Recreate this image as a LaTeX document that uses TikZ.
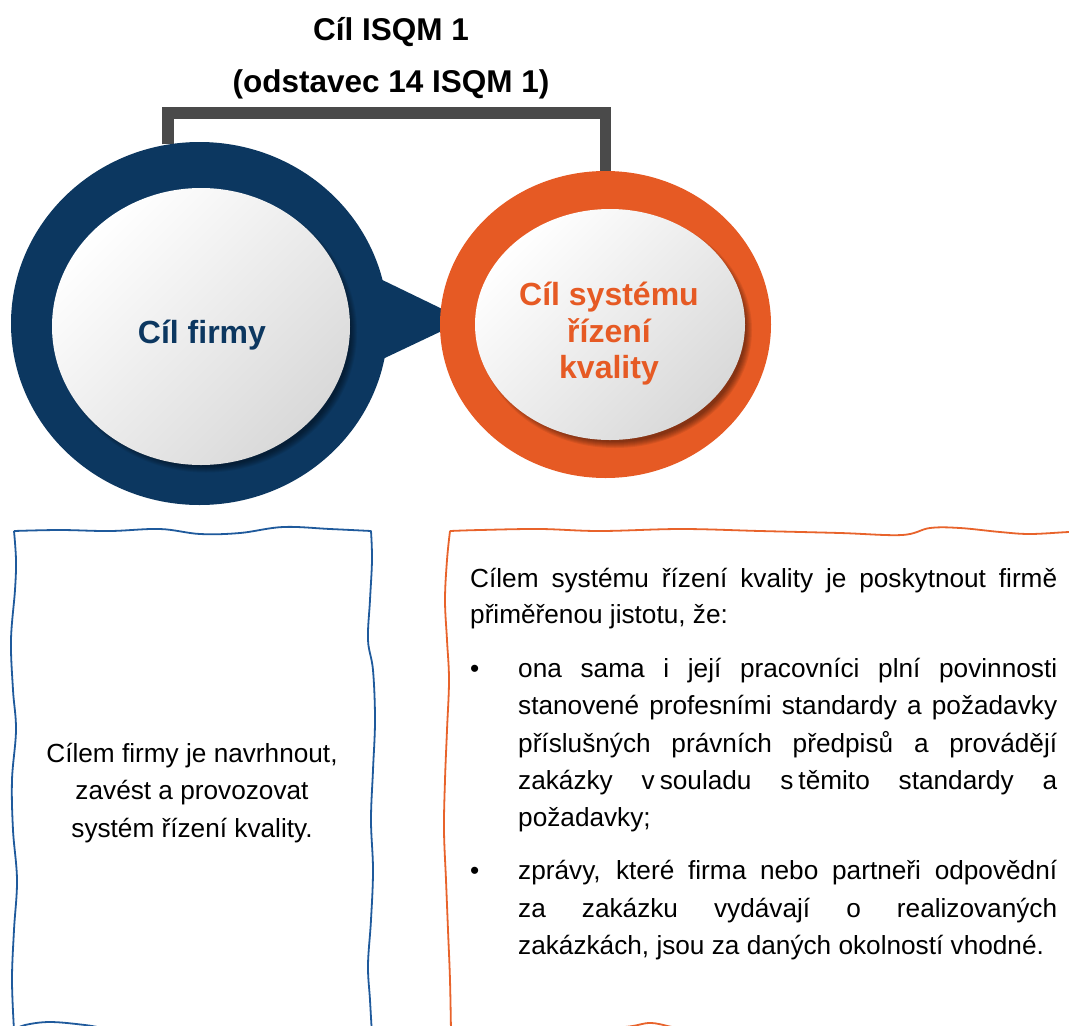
\documentclass[tikz,border=0pt]{standalone}
\usepackage{fontspec}
\setmainfont{Liberation Sans}
\usetikzlibrary{shapes.geometric}
\pgfdeclarelayer{bg}
\pgfsetlayers{bg,main}
\definecolor{navy}{HTML}{0C3760}
\definecolor{orng}{HTML}{E65A24}
\definecolor{boxblue}{HTML}{1F5A9C}
\definecolor{boxorng}{HTML}{E8632B}
\definecolor{brk}{HTML}{4A4A4A}
\begin{document}
\begin{tikzpicture}[x=1pt,y=-1pt,
  ring/.style={ellipse, inner sep=0pt, draw=none},
  disk/.style={ellipse, inner sep=0pt, draw=none, top color=white, bottom color=gray!30, shading angle=45},
  ttl/.style={font=\bfseries\fontsize{31.5}{36}\selectfont, anchor=base, inner sep=0pt},
  ctext/.style={font=\bfseries\fontsize{32}{36}\selectfont, anchor=base, inner sep=0pt},
  body/.style={font=\fontsize{26.2}{37}\selectfont, anchor=base west, inner sep=0pt},
  bodyc/.style={body, anchor=base},
  wavy/.style={line width=1.8pt, line join=round},
  bracketline/.style={line width=11.5pt, brk, line join=miter}
]
\useasboundingbox (0,0) rectangle (1069,1026);
\begin{pgfonlayer}{bg}
  \fill[white] (0,0) rectangle (1069,1026);
\end{pgfonlayer}
\clip (0,0) rectangle (1069,1026);

% title
\node[ttl] (t1) at (391,40) {Cíl ISQM 1};
\node[ttl] (t2) at (391,92) {(odstavec 14 ISQM 1)};

% outer rings
\node[ring, fill=navy, minimum width=377pt, minimum height=363pt] (firmOuter) at (199.5,323.5) {};
\node[ring, fill=orng, minimum width=331pt, minimum height=307pt] (sqOuter) at (605.5,324.5) {};

% bracket and pointer behind
\coordinate (brTop) at (391,113);
\coordinate (tip) at (465,320);
\begin{pgfonlayer}{bg}
  \draw[bracketline] (firmOuter.100) |- (brTop) -| (sqOuter.north);
  \fill[navy] (370,274) -- (tip) -- (370,365) -- cycle;
\end{pgfonlayer}

% shadows of inner disks
\foreach \k in {0,...,6}{
  \fill[black, opacity=0.07] (206,332) ellipse [x radius={145+\k}, y radius={134.5+\k}];
  \fill[black, opacity=0.07] (615,330) ellipse [x radius={131+\k}, y radius={112+\k}];
}

% inner disks
\node[disk, minimum width=298pt, minimum height=277pt] (firmInner) at (201,326.5) {};
\node[disk, minimum width=270pt, minimum height=231pt] (sqInner) at (610,324.5) {};

% circle texts
\node[ctext, text=navy] (firmLbl) at (202,343) {Cíl firmy};
\node[ctext, text=orng] (sqLbl1) at (609,305) {Cíl systému};
\node[ctext, text=orng] (sqLbl2) at (609,342) {řízení};
\node[ctext, text=orng] (sqLbl3) at (609,378) {kvality};

% left wavy box
\draw[wavy, boxblue]
  plot[smooth, tension=0.6] coordinates {(14,531) (60,530) (110,531) (160,529) (200,534) (240,533) (283,527) (330,529) (371,531)}
  -- plot[smooth, tension=0.6] coordinates {(371,531) (372,560) (370,600) (368,640) (373,670) (375,720) (373,770) (371,820) (373,870) (371,920) (368,965) (370,1000) (372,1035)}
  -- plot[smooth, tension=0.6] coordinates {(372,1035) (300,1032) (200,1034) (120,1030) (85,1025) (50,1022) (25,1025) (14,1030)}
  -- plot[smooth, tension=0.6] coordinates {(14,1030) (12,980) (14,930) (17,880) (13,830) (12,780) (16,730) (13,690) (11,640) (15,590) (16,560) (14,531)};

% right wavy box
\draw[wavy, boxorng]
  plot[smooth, tension=0.6] coordinates {(450,531) (480,530) (540,529) (600,531) (681,529) (760,531) (840,533) (902,535) (930,528) (960,528) (1000,532) (1030,534) (1069,532) (1085,532)}
  -- (1085,1040)
  -- plot[smooth, tension=0.6] coordinates {(1085,1040) (900,1034) (700,1033) (672,1027) (650,1023) (625,1027) (560,1032) (451,1032)}
  -- plot[smooth, tension=0.6] coordinates {(451,1032) (450,980) (448,930) (446,880) (444,830) (445,780) (447,730) (449,680) (447,640) (445,600) (447,560) (450,531)};

% left box text
\node[bodyc] (l1) at (192,762) {Cílem firmy je navrhnout,};
\node[bodyc] (l2) at (192,799) {zavést a provozovat};
\node[bodyc] (l3) at (192,837) {systém řízení kvality.};

% right box text
\node[body] (r1) at (470,587) {\makebox[587pt][s]{Cílem systému řízení kvality je poskytnout firmě}};
\node[body] (r2) at (470,623) {přiměřenou jistotu, že:};
\node[body] (b1) at (470,677) {•};
\node[body] (r3) at (518,677) {\makebox[539pt][s]{ona sama i její pracovníci plní povinnosti}};
\node[body] (r4) at (518,714) {\makebox[539pt][s]{stanovené profesními standardy a požadavky}};
\node[body] (r5) at (518,752) {\makebox[539pt][s]{příslušných právních předpisů a provádějí}};
\node[body] (r6) at (518,789) {\makebox[539pt][s]{zakázky v\hspace{5pt}souladu s\hspace{5pt}těmito standardy a}};
\node[body] (r7) at (518,826) {požadavky;};
\node[body] (b2) at (470,879) {•};
\node[body] (r8) at (518,879) {\makebox[539pt][s]{zprávy, které firma nebo partneři odpovědní}};
\node[body] (r9) at (518,917) {\makebox[539pt][s]{za zakázku vydávají o realizovaných}};
\node[body] (r10) at (518,954) {zakázkách, jsou za daných okolností vhodné.};
\end{tikzpicture}
\end{document}
